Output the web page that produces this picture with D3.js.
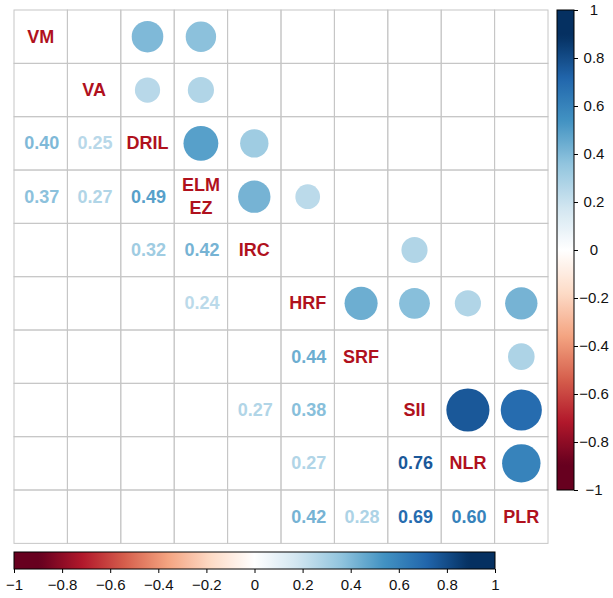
<!DOCTYPE html>
<html><head><meta charset="utf-8">
<script src="https://cdn.jsdelivr.net/npm/d3@7"></script>
<style>body{margin:0;background:#fff}svg{display:block}</style>
</head><body><svg id="c" width="613" height="598"></svg>
<script>
const variables = ["VM","VA","DRIL","ELM\nEZ","IRC","HRF","SRF","SII","NLR","PLR"];
// significant correlations: [row, col, r] (row > col, lower triangle; mirrored as circles)
const pairRow = [2,2,3,3,3,4,4,5,6,7,7,8,8,9,9,9,9];
const pairCol = [0,1,0,1,2,2,3,3,5,4,5,5,7,5,6,7,8];
const pairR   = [0.40,0.25,0.37,0.27,0.49,0.32,0.42,0.24,0.44,0.27,0.38,0.27,0.76,0.42,0.28,0.69,0.60];
const ticks = [-1,-0.8,-0.6,-0.4,-0.2,0,0.2,0.4,0.6,0.8,1];
const palette = ["#67001F","#B2182B","#D6604D","#F4A582","#FDDBC7","#FFFFFF","#D1E5F0","#92C5DE","#4393C3","#2166AC","#053061"];

const svg = d3.select("#c");
const n = variables.length;
const x = d3.scaleBand().domain(d3.range(n)).range([14,548]);
const y = d3.scaleBand().domain(d3.range(n)).range([10,543.3]);
const cs = x.bandwidth();
const base = d3.scaleLinear().domain(d3.range(11).map(i=>-1+i*0.2)).range(palette).interpolate(d3.interpolateRgb).clamp(true);
const col = v => base(v*1.12);

const g = svg.append("g");
for(let i=0;i<n;i++){for(let j=0;j<n;j++){
  g.append("rect").attr("x",x(j)).attr("y",y(i)).attr("width",cs).attr("height",cs)
   .attr("fill","none").attr("stroke","#c6c6c6").attr("stroke-width",1);
}}
const pairs = pairR.map((r,k)=>({i:pairRow[k],j:pairCol[k],r}));
g.selectAll("text.num").data(pairs).join("text")
  .attr("x",d=>x(d.j)+cs/2+1).attr("y",d=>y(d.i)+cs/2)
  .attr("text-anchor","middle").attr("dominant-baseline","central")
  .attr("font-family","Liberation Sans, Arial, sans-serif").attr("font-weight","bold").attr("font-size",18)
  .attr("fill",d=>col(d.r)).text(d=>d.r.toFixed(2));
g.selectAll("circle").data(pairs).join("circle")
  .attr("cx",d=>x(d.i)+cs/2).attr("cy",d=>y(d.j)+cs/2)
  .attr("r",d=>0.45*cs*Math.sqrt(Math.abs(d.r))+0.6)
  .attr("fill",d=>col(d.r));
variables.forEach((v,i)=>{
  const lines = v.split("\n");
  const t = g.append("text").attr("text-anchor","middle")
    .attr("font-family","Liberation Sans, Arial, sans-serif").attr("font-weight","bold").attr("font-size",18)
    .attr("fill","#B0111D");
  lines.forEach((l,k)=>{
    t.append("tspan").attr("x",x(i)+cs/2).attr("y",y(i)+cs/2+(k-(lines.length-1)/2)*23.5)
     .attr("dominant-baseline","central").text(l);
  });
});

const defs = svg.append("defs");
const gv = defs.append("linearGradient").attr("id","gv").attr("x1",0).attr("y1",1).attr("x2",0).attr("y2",0);
const gh = defs.append("linearGradient").attr("id","gh").attr("x1",0).attr("y1",0).attr("x2",1).attr("y2",0);
d3.range(0,101).forEach(k=>{
  const v = -1 + k/50;
  gv.append("stop").attr("offset",k/100).attr("stop-color",col(v));
  gh.append("stop").attr("offset",k/100).attr("stop-color",col(v));
});
const fmt = v => v===0?"0":d3.format("")(v).replace("-","\u2212");

const vy = d3.scaleLinear().domain([-1,1]).range([490,10]);
svg.append("rect").attr("x",557).attr("y",10).attr("width",17).attr("height",480)
  .attr("fill","url(#gv)").attr("stroke","#000").attr("stroke-width",1);
const vax = svg.append("g").attr("transform","translate(574,0)")
  .call(d3.axisRight(vy).tickValues(ticks).tickSize(4).tickFormat(fmt));
vax.select(".domain").remove();
vax.selectAll("text").attr("font-family","Liberation Sans, Arial, sans-serif").attr("font-size",15)
  .attr("fill","#111").attr("text-anchor","middle").attr("x",20);

const hx = d3.scaleLinear().domain([-1,1]).range([14,495]);
svg.append("rect").attr("x",14).attr("y",552).attr("width",481).attr("height",17)
  .attr("fill","url(#gh)").attr("stroke","#000").attr("stroke-width",1);
const hax = svg.append("g").attr("transform","translate(0,569)")
  .call(d3.axisBottom(hx).tickValues(ticks).tickSize(4).tickFormat(fmt));
hax.select(".domain").remove();
hax.selectAll("text").attr("font-family","Liberation Sans, Arial, sans-serif").attr("font-size",15)
  .attr("fill","#111").attr("y",10);
</script></body></html>
